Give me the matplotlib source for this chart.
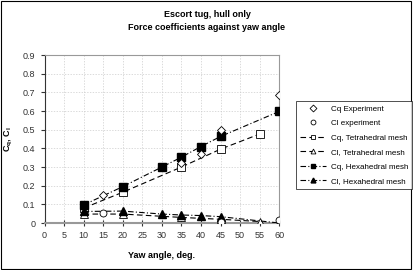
import matplotlib
matplotlib.use('Agg')
import matplotlib.pyplot as plt
from matplotlib.patches import Rectangle

plt.rcParams['font.family'] = 'Liberation Sans'

# data
x_cq_exp = [15, 35, 40, 45, 60]
cq_exp = [0.15, 0.32, 0.37, 0.50, 0.685]
x_cl_exp = [15, 45, 60]
cl_exp = [0.052, 0.008, 0.016]

x_tet_cq = [10, 20, 35, 45, 55]
cq_tet = [0.08, 0.165, 0.30, 0.396, 0.477]
x_tet_cl = [10, 20, 35, 45, 55]
cl_tet = [0.048, 0.048, 0.03, 0.02, 0.008]

x_hex = [10, 20, 30, 35, 40, 45, 60]
cq_hex = [0.097, 0.195, 0.30, 0.353, 0.41, 0.464, 0.598]
cl_hex = [0.062, 0.064, 0.048, 0.043, 0.04, 0.034, 0.0]

xticks = list(range(0, 61, 5))
yticks = [0, 0.1, 0.2, 0.3, 0.4, 0.5, 0.6, 0.7, 0.8, 0.9]

fig = plt.figure(figsize=(4.14, 2.70), dpi=100)
ax = fig.add_axes([0.1075, 0.174, 0.567, 0.622])

ax.plot(x_cq_exp, cq_exp, linestyle='none', marker='D', ms=4, mfc='white',
        mec='black', mew=0.6, label='Cq Experiment', zorder=4)
ax.plot(x_cl_exp, cl_exp, linestyle='none', marker='o', ms=5, mfc='white',
        mec='black', mew=0.6, label='Cl experiment', zorder=4)
ax.plot(x_tet_cq, cq_tet, color='black', lw=0.8, ls=(0, (5, 3)), marker='s',
        ms=5.5, mfc='white', mec='black', mew=0.6, label='Cq, Tetrahedral mesh', zorder=3)
ax.plot(x_tet_cl, cl_tet, color='black', lw=0.8, ls=(0, (5, 3)), marker='^',
        ms=5.5, mfc='white', mec='black', mew=0.6, label='Cl, Tetrahedral mesh', zorder=3)
ax.plot(x_hex, cq_hex, color='black', lw=0.8, ls=(0, (5, 2, 1, 2)), marker='s',
        ms=5.5, mfc='black', mec='black', label='Cq, Hexahedral mesh', zorder=3)
ax.plot(x_hex, cl_hex, color='black', lw=0.8, ls=(0, (5, 2, 1, 2)), marker='^',
        ms=5.5, mfc='black', mec='black', label='Cl, Hexahedral mesh', zorder=3)

ax.set_xlim(0, 60)
ax.set_ylim(0, 0.9)
ax.set_xticks(xticks)
ax.set_yticks(yticks)
ax.set_yticklabels(['0', '0.1', '0.2', '0.3', '0.4', '0.5', '0.6', '0.7', '0.8', '0.9'])
ax.tick_params(labelsize=6.5, length=3, width=0.8, colors='#333333')
ax.tick_params(axis='x', direction='inout', length=4)
ax.grid(True, color='#cccccc', ls=(0, (2, 2)), lw=0.5)
ax.set_axisbelow(True)
for s in ['top', 'right']:
    ax.spines[s].set_color('#999999')
    ax.spines[s].set_linewidth(0.8)
ax.spines['bottom'].set_color('#999999')
ax.spines['bottom'].set_linewidth(1.5)
ax.spines['left'].set_color('#333333')
ax.spines['left'].set_linewidth(0.8)

ax.set_xlabel('Yaw angle, deg.', fontsize=6.5, fontweight='bold', labelpad=8)
ax.set_ylabel(r'C$_\mathregular{q}$, C$_\mathregular{l}$', fontsize=6.5,
              fontweight='bold', labelpad=6)

fig.text(0.5, 0.948, 'Escort tug, hull only', ha='center', va='center',
         fontsize=6.5, fontweight='bold')
fig.text(0.5, 0.9, 'Force coefficients against yaw angle', ha='center',
         va='center', fontsize=6.5, fontweight='bold')

leg = fig.legend(loc='upper left', bbox_to_anchor=(0.705, 0.641), fontsize=5.8,
                 frameon=True, fancybox=False, handlelength=3.2,
                 labelspacing=0.85, borderpad=0.5, handletextpad=0.6)
leg.get_frame().set_edgecolor('black')
leg.get_frame().set_linewidth(0.6)
for h in leg.legend_handles:
    h.set_markersize(3.5)

fig.patches.append(Rectangle((0.002, 0.004), 0.99, 0.992, transform=fig.transFigure,
                             fill=False, edgecolor='black', lw=0.8))

fig.savefig('out.png', dpi=100)
